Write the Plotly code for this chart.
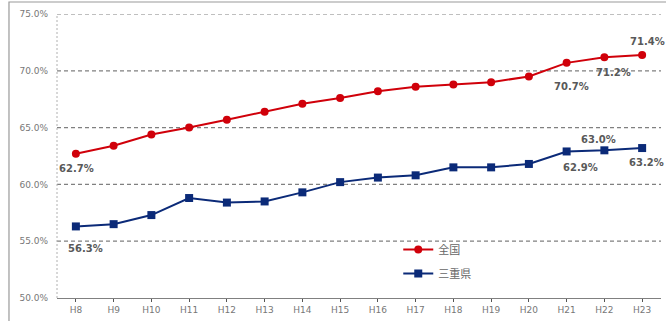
import plotly.graph_objects as go

# Fiscal years (Heisei era)
years = ["H8", "H9", "H10", "H11", "H12", "H13", "H14", "H15",
         "H16", "H17", "H18", "H19", "H20", "H21", "H22", "H23"]

# Rates in percent
national = [62.7, 63.4, 64.4, 65.0, 65.7, 66.4, 67.1, 67.6,
            68.2, 68.6, 68.8, 69.0, 69.5, 70.7, 71.2, 71.4]
mie = [56.3, 56.5, 57.3, 58.8, 58.4, 58.5, 59.3, 60.2,
       60.6, 60.8, 61.5, 61.5, 61.8, 62.9, 63.0, 63.2]

series_names = ["全国", "三重県"]
y_ticks = [50, 55, 60, 65, 70, 75]

RED = "#d0000a"
NAVY = "#0b2a78"
LABEL_GRAY = "#595959"
AXIS_GRAY = "#777777"

fig = go.Figure()
fig.add_trace(go.Scatter(
    x=years, y=national, name=series_names[0], mode="lines+markers",
    line=dict(color=RED, width=2),
    marker=dict(symbol="circle", size=8, color=RED),
    legendgroup="a",
))
fig.add_trace(go.Scatter(
    x=years, y=mie, name=series_names[1], mode="lines+markers",
    line=dict(color=NAVY, width=2),
    marker=dict(symbol="square", size=8, color=NAVY),
    legendgroup="b",
))

# Value labels: (series, index, x offset px, y offset px)
label_spots = [
    (national, 0, 1, -15),
    (national, 13, 5, -24),
    (national, 14, 9, -15),
    (national, 15, 5, 13),
    (mie, 0, 10, -22),
    (mie, 13, 14, -16),
    (mie, 14, -6, 11),
    (mie, 15, 4, -14),
]
for vals, i, dx, dy in label_spots:
    fig.add_annotation(
        x=years[i], y=vals[i], text=f"{vals[i]:.1f}%",
        showarrow=False, xshift=dx, yshift=dy,
        font=dict(family="DejaVu Sans", size=10, color=LABEL_GRAY, weight="bold"),
    )

# Dashed horizontal gridlines above the baseline
for t in y_ticks[1:]:
    fig.add_shape(type="line", xref="paper", yref="y", x0=0, x1=1, y0=t, y1=t,
                  line=dict(color="#808080", width=1.2, dash="4px,3px"), layer="below")
# Dashed left axis
fig.add_shape(type="line", xref="paper", yref="paper", x0=0, x1=0, y0=0, y1=1,
              line=dict(color="#b0b0b0", width=1, dash="2px,2px"), layer="below")
# Outer frame around the chart
fig.add_shape(type="rect", xref="paper", yref="paper",
              x0=-0.0795, x1=1.05, y0=-0.2, y1=1.0423,
              line=dict(color="#9a9a9a", width=1.2), layer="below")

fig.update_layout(
    width=666, height=321,
    margin=dict(l=57, r=5, t=14, b=23),
    paper_bgcolor="white", plot_bgcolor="white",
    showlegend=True,
    legend=dict(
        x=0.565, y=0.222, xanchor="left", yanchor="top",
        bgcolor="rgba(0,0,0,0)", tracegroupgap=5,
        font=dict(family="Noto Sans CJK JP", size=11, color="#666666"),
    ),
    xaxis=dict(
        type="category", showgrid=False, showline=True,
        linecolor="#808080", linewidth=1,
        ticks="outside", ticklen=3, tickcolor="#555555",
        tickfont=dict(family="DejaVu Sans", size=9, color=AXIS_GRAY),
        range=[-0.5, len(years) - 0.5],
    ),
    yaxis=dict(
        range=[50, 75], tickvals=y_ticks,
        ticktext=[f"{t:.1f}%" for t in y_ticks],
        showgrid=False, showline=False, zeroline=False,
        ticks="", ticklabelstandoff=8,
        tickfont=dict(family="DejaVu Sans", size=9, color=AXIS_GRAY),
    ),
)

fig.write_html("out.html")
